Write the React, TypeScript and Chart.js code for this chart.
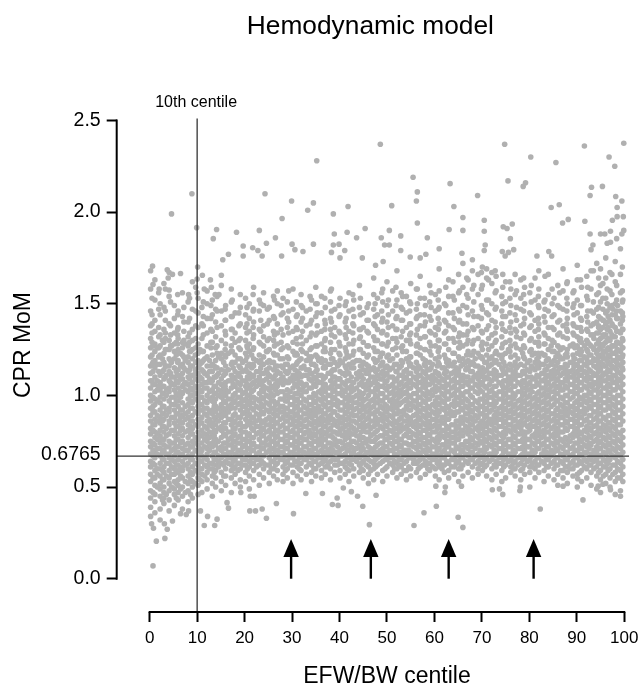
import React, { useEffect, useRef } from "react";
import { Chart, registerables } from "chart.js";

Chart.register(...registerables);

const chartTitle = "Hemodynamic model";
const xAxisTitle = "EFW/BW centile";
const yAxisTitle = "CPR MoM";
const centileLabel = "10th centile";
const xTicks = [0, 10, 20, 30, 40, 50, 60, 70, 80, 90, 100];
const yTicks = [0, 0.5, 1, 1.5, 2, 2.5];
const centileLine = 10;
const thresholdLabel = 0.6765;
const thresholdDrawn = 0.669; // where the line sits in the picture, just under the label's value
const arrowCentiles = [29.8, 46.6, 63.0, 80.9];

// Outlying dots: [centile, MoM]
const outliers: number[][] = [
  [35.2,2.28],[8.9,2.10],[24.3,2.10],[29.9,2.06],[34.5,2.05],[33.3,2.01],[41.8,2.03],[4.6,1.99],[38.7,1.99],[27.9,1.965],
  [9.9,1.915],[14.1,1.905],[13.4,1.855],[18.3,1.89],[23.1,1.90],[45.4,1.91],[38.9,1.88],[41.6,1.89],[26.5,1.86],[43.6,1.86],
  [24.6,1.83],[19.7,1.815],[21.7,1.805],[22.8,1.79],[30,1.825],[34.5,1.825],[38.7,1.82],[39.9,1.825],[30.6,1.795],[32.3,1.785],
  [41.1,1.79],[38.3,1.78],[16.6,1.77],[19.7,1.76],[23.7,1.76],[27.8,1.76],[15.4,1.74],[40.1,1.75],[44.8,1.75],
  [0.6,1.705],[3.7,1.685],[6.5,1.665],[4.8,1.66],[3.9,1.64],[0.7,1.605],[2,1.58],[4.1,1.575],[10.1,1.70],[10,1.635],[11.1,1.655],
  [12.8,1.63],[15.1,1.655],[13,1.59],[11.5,1.58],[10,1.56],[8.2,1.55],[13.8,1.55],[14.6,1.55],
  [48.6,2.37],[74.8,2.37],[91.6,2.36],[99.9,2.375],[80.3,2.30],[96.8,2.30],[85.6,2.27],[98,2.25],[55.5,2.19],[63.3,2.155],
  [75.5,2.17],[79.2,2.16],[78.7,2.14],[95.4,2.14],[93.1,2.135],[56.4,2.11],[56.2,2.06],[69.1,2.09],[92.8,2.09],[98.2,2.085],
  [99.5,2.06],[51,2.035],[64.1,2.03],[84.6,2.025],[86.3,2.04],[98.5,2.025],[66,1.97],[70.5,1.955],[56.4,1.94],[88.2,1.96],
  [87,1.94],[91.7,1.95],[97.5,1.955],[98.5,1.975],[99.8,1.975],[76.4,1.935],[74.5,1.92],[75.3,1.91],[66,1.90],[70.5,1.895],
  [63.1,1.905],[50.5,1.90],[52.9,1.87],[48.8,1.86],[58.5,1.86],[76,1.855],[92.8,1.88],[95,1.88],[95.9,1.88],[97.1,1.895],
  [99.9,1.90],[99.5,1.88],[98.4,1.855],[97.1,1.835],[96.4,1.83],[93.4,1.82],[93,1.795],[70.7,1.82],[70.5,1.79],[76.7,1.795],
  [75.6,1.78],[74.3,1.785],[74.9,1.76],[84.1,1.785],[84.7,1.76],[81.6,1.76],[61,1.80],[52.9,1.79],[49.5,1.82],[50.5,1.82],
  [54.9,1.755],[57,1.75],[58.2,1.77],[65.8,1.775],[49.2,1.73],[47.6,1.71],
  [0.7,0.07],[1.4,0.205],[3.2,0.22],[11.5,0.29],[13.7,0.29],[24.6,0.33],[30.3,0.355],[3.7,0.27],[0.8,0.275],[0.4,0.30],
  [3.1,0.30],[4.8,0.315],[14.2,0.325],[12.2,0.34],[6.5,0.355],[7.7,0.35],[8.2,0.37],[10.7,0.37],[21.1,0.37],[22.3,0.37],
  [23.7,0.38],[26.7,0.41],[16.6,0.385],[16.3,0.415],[21.2,0.45],[22,0.45],[19.2,0.47],[32.9,0.465],[36.4,0.465],[38.5,0.405],
  [39.7,0.40],[39.5,0.44],[46.3,0.295],[44.9,0.395],[55.7,0.29],[57.8,0.36],[60.4,0.395],[65,0.335],[66,0.28],[82.3,0.38],
  [91.3,0.43],[99.2,0.45],[90.2,0.545],[97.1,0.485],[95.5,0.515],[94.5,0.505],[74.4,0.46],[72.2,0.485],[73.7,0.49],[62.2,0.47],
  [62.3,0.50],[65.7,0.505],[60.3,0.505],[47.7,0.455],[43.8,0.45],[42.5,0.475],[40.8,0.495],[78,0.48],[87.1,0.505],[78.1,0.50],
];

// Centile of each column of the dense band (estimated).
const cloudX = [
  0.2,1.1,2.2,3.0,4.1,5.2,6.0,6.9,8.1,9.0,10.2,11.0,12.1,13.2,13.9,15.1,16.0,17.2,18.0,19.1,
  20.2,21.0,21.9,23.1,24.0,25.2,26.1,26.9,28.1,29.0,30.2,31.1,31.9,33.0,34.1,35.0,36.2,37.0,38.1,39.0,
  40.1,41.2,42.0,43.0,44.2,45.0,46.1,47.2,48.0,49.1,50.0,51.2,52.1,53.0,54.1,55.0,56.2,57.0,58.1,59.0,
  60.2,61.0,62.1,63.0,64.2,65.1,66.0,67.1,68.0,69.2,70.1,71.0,72.1,73.0,74.2,75.0,76.1,77.0,78.2,79.0,
  80.1,81.2,82.0,83.1,84.0,85.2,86.0,87.1,88.0,89.2,90.1,91.0,92.1,93.0,94.2,95.0,96.1,97.0,98.1,99.2,
];

// Estimated MoM values of each column, in hundredths. The band is too dense to read dot by dot.
const cloudY: number[][] = [
  [34,39,44,48,53,57,61,64,68,72,75,79,82,86,89,93,97,100,104,108,112,116,121,126,131,138,146,158,168],
  [36,42,46,51,55,59,62,66,69,73,77,80,84,87,91,95,98,102,106,110,115,119,124,128,135,141,152,163],
  [32,38,45,49,52,56,60,63,67,71,74,78,81,85,88,92,96,99,103,107,111,117,122,127,133,144,150],
  [41,44,47,50,54,58,61,65,70,73,76,80,83,87,90,94,98,101,105,109,114,118,123,129,136,148,161],
  [37,43,48,52,55,59,63,66,68,72,75,79,84,86,91,93,97,102,104,108,113,116,120,125,130,139,154,167],
  [40,46,49,53,57,60,64,67,71,74,78,81,85,88,92,95,99,103,106,110,115,120,124,128,134,142,149],
  [43,47,51,54,58,62,65,69,72,76,79,83,86,90,94,97,100,104,107,111,114,119,125,131,137,146],
  [38,45,50,55,59,61,64,68,71,75,78,82,85,89,92,96,101,105,109,112,117,122,126,129,143,156],
  [42,48,52,56,60,63,67,70,74,77,81,84,88,91,95,98,102,106,110,113,118,121,127,132,140,151],
  [44,50,53,57,61,65,68,72,75,79,82,86,89,93,96,100,103,107,111,116,120,125,130,136,147,162],
  [46,51,55,58,62,66,69,73,76,80,83,87,90,94,97,101,105,108,112,115,119,123,128,137,145,153],
  [47,53,57,60,64,67,70,74,78,81,85,88,92,95,99,102,106,109,114,118,124,131,139,148],
  [49,54,58,61,65,68,71,75,78,82,86,89,93,96,100,104,107,111,116,121,127,134,142,150,157],
  [45,52,56,60,63,67,72,74,79,83,85,90,92,97,99,103,108,113,117,122,129,135,144,152],
  [50,55,59,62,65,69,73,76,80,84,87,91,94,98,101,105,110,115,119,126,132,140,147],
  [48,53,58,63,66,70,72,77,81,83,88,91,95,99,102,106,109,114,120,123,130,138,146,160],
  [51,56,60,64,67,71,74,78,82,85,89,92,96,100,103,107,112,116,121,128,133,141,149],
  [47,55,59,62,66,69,73,77,80,84,87,93,95,98,104,108,111,117,124,127,136,143,151,158],
  [52,57,61,65,68,72,75,79,82,86,90,93,97,101,105,109,113,118,122,129,134,145],
  [50,54,60,63,67,70,74,78,81,85,88,92,96,99,103,106,110,115,120,125,131,139,148,155],
  [53,58,62,65,69,73,76,80,83,87,91,94,98,102,105,108,114,119,123,130,137,144,153],
  [49,56,61,64,68,71,75,79,84,86,90,95,97,100,104,109,112,117,124,128,135,142,150],
  [54,59,63,66,70,74,77,81,85,88,92,96,99,103,107,111,116,120,126,133,140,147,159],
  [51,57,62,65,69,72,76,80,83,87,89,93,97,101,106,110,113,118,122,129,136,146,152],
  [55,60,63,67,71,74,78,82,86,90,94,98,102,105,108,112,117,121,127,132,138,149,156],
  [52,58,62,66,70,73,77,81,84,88,91,95,99,103,107,111,115,119,125,131,141,148],
  [56,60,64,68,71,75,79,83,87,90,93,97,100,104,109,114,118,123,130,135,143,154],
  [54,59,63,67,70,74,78,81,85,89,92,96,101,105,108,113,116,122,128,134,139,150,157],
  [53,57,61,65,69,72,76,80,84,88,91,94,98,102,106,110,115,120,126,133,145,153],
  [55,60,64,67,71,75,78,82,86,89,93,97,100,103,107,112,117,121,127,137,142,151],
  [52,58,62,66,69,73,77,81,85,87,91,95,99,104,108,111,116,124,129,135,147,158],
  [56,61,64,68,72,75,79,83,86,90,94,98,101,105,109,113,118,122,128,136,144],
  [54,59,63,67,70,74,77,81,84,88,92,96,100,103,107,110,115,120,125,132,140,149,155],
  [57,61,65,68,72,76,80,83,87,90,93,97,102,106,111,114,119,123,130,138,146],
  [53,58,62,66,69,73,77,79,84,88,91,95,99,104,108,112,117,121,126,134,141,152],
  [56,60,64,67,71,75,78,82,85,89,92,96,100,105,109,113,116,122,127,133,143,150,159],
  [55,59,63,66,70,74,78,81,85,88,92,97,101,103,107,111,118,120,128,135,145,154],
  [57,61,65,69,72,76,79,83,86,90,94,98,102,106,110,115,119,124,131,139,148],
  [54,60,64,68,71,74,78,82,87,89,93,96,100,104,108,112,117,123,129,136,142,151,157],
  [58,62,65,69,73,76,80,84,86,91,95,99,103,107,110,114,118,125,132,137,147],
  [55,59,63,67,70,75,79,81,85,88,92,96,101,105,109,113,119,122,127,134,144,153],
  [57,61,64,68,72,76,80,83,87,90,94,98,102,106,111,116,120,126,133,140,149],
  [53,59,63,66,70,73,77,81,84,88,93,97,100,104,108,112,117,121,128,135,146,156],
  [56,60,65,69,71,75,79,82,86,89,92,96,99,103,107,115,118,124,130,138,143,152],
  [58,62,66,68,72,76,78,83,87,91,95,98,102,106,110,113,119,125,131,136,148,160],
  [55,59,64,67,71,74,77,82,85,89,93,97,101,105,109,114,118,123,129,137,145],
  [52,57,61,65,69,72,76,80,84,88,91,95,100,104,108,112,116,122,127,134,141,150],
  [54,60,63,67,70,75,79,83,86,90,94,98,102,107,110,115,120,126,132,139,147,155,164],
  [57,62,66,69,73,77,81,85,87,92,96,99,103,106,111,114,119,124,130,136,144,153],
  [53,59,64,68,71,74,78,82,86,89,93,97,101,105,109,113,118,123,128,135,142,151,158],
  [56,61,65,68,72,76,79,83,87,91,94,99,103,108,112,116,121,127,133,140,149,162],
  [58,62,66,70,73,77,80,84,88,92,95,98,102,106,110,115,120,125,131,138,146,157],
  [55,60,63,67,71,75,78,82,85,90,93,97,101,104,109,113,117,122,129,136,143,152,168],
  [57,61,65,69,72,76,81,84,88,91,96,100,103,107,111,116,119,126,132,141,148,156],
  [54,59,64,68,70,74,79,83,86,89,94,98,102,106,110,114,120,124,130,137,145,154],
  [56,60,66,69,73,77,80,85,87,92,95,99,104,108,112,117,121,128,134,139,150,161],
  [58,63,67,71,75,78,82,86,90,93,97,101,105,109,113,118,123,127,133,142,147,158],
  [55,61,65,68,72,76,79,83,87,91,95,99,103,107,111,115,122,126,131,138,144,153,165],
  [57,62,64,69,73,77,81,84,88,92,96,100,104,108,112,116,119,125,132,140,149],
  [59,63,66,70,74,78,82,85,89,93,98,101,106,110,114,118,124,129,135,143,151,160],
  [56,60,65,68,72,75,80,84,87,90,94,97,102,105,109,113,120,127,133,137,146,155],
  [54,61,64,67,71,76,79,83,86,91,95,99,103,107,111,117,121,126,130,139,148,157,169],
  [58,62,66,70,73,77,81,85,88,92,96,100,104,108,112,115,122,128,134,141,150],
  [55,59,63,68,72,75,78,82,87,90,93,98,102,106,110,116,119,125,131,138,145,154,163],
  [57,61,65,69,74,77,80,84,89,94,97,101,105,109,113,118,123,129,136,142,152],
  [53,60,64,67,71,76,79,83,86,91,95,99,103,107,112,114,121,126,132,140,147,156,166],
  [56,62,66,70,73,78,81,85,88,92,96,100,105,108,111,117,120,127,133,139,149,159,172],
  [58,63,67,71,75,79,82,86,90,93,97,102,106,110,115,119,124,130,135,144,153,163],
  [55,61,65,69,72,76,80,84,87,91,95,99,104,108,113,118,122,128,137,146,158,168,174],
  [57,60,64,68,73,77,81,83,88,92,96,101,105,109,112,116,123,131,138,143,155,166],
  [59,63,67,70,74,78,82,86,90,94,98,102,107,111,115,120,125,129,134,147,160,170],
  [56,62,66,71,75,79,83,85,89,93,97,100,104,110,114,118,122,128,136,145,152,164,169],
  [54,60,65,68,72,76,80,84,87,92,95,99,103,108,112,117,121,127,133,141,150,161,167],
  [57,61,64,69,73,77,81,85,88,91,96,100,105,109,113,119,124,130,137,148,157,165],
  [53,59,63,67,71,75,78,83,87,90,94,98,102,106,111,115,120,126,132,139,146,154],
  [55,62,66,70,74,79,82,86,89,93,97,101,104,108,112,116,123,129,135,143,151,162],
  [58,61,65,68,72,76,80,84,88,92,96,99,103,107,110,114,121,127,134,140,149,158],
  [56,60,64,69,73,77,81,83,87,91,95,100,105,109,113,118,122,128,136,144,155,166],
  [54,59,63,67,71,75,79,82,86,90,94,98,102,106,111,117,125,131,138,147,153,163],
  [57,62,66,70,74,78,80,85,89,93,97,101,104,108,112,116,120,126,133,142,150,159],
  [50,58,61,65,68,72,76,81,84,88,92,96,100,103,107,113,119,124,130,137,145,156],
  [55,60,64,69,73,77,79,83,87,91,95,99,105,109,114,118,123,129,135,141,152,164],
  [58,62,66,71,75,78,82,86,90,94,98,102,106,110,115,121,127,132,139,148,158,168],
  [53,59,63,67,70,74,78,81,85,89,93,97,101,104,108,112,117,122,128,134,143,151],
  [56,61,65,68,72,76,80,84,88,92,96,100,103,107,111,116,120,125,131,137,146,155,166],
  [54,60,64,69,73,77,79,83,87,90,95,99,102,106,110,114,119,124,129,136,144,153],
  [51,57,62,66,70,74,78,82,86,89,93,97,101,105,109,113,118,123,127,133,140,149,160],
  [55,59,63,67,71,75,80,84,88,91,94,98,103,107,112,115,120,126,132,138,147,157,169],
  [52,58,61,65,69,73,76,81,85,89,92,96,100,104,108,111,116,121,125,131,135,142,150,162],
  [56,60,64,68,72,77,79,83,87,90,94,99,102,106,110,114,118,122,128,134,139,148,156],
  [50,57,62,66,70,74,78,82,86,89,93,97,101,105,109,113,117,123,127,132,137,145,152,163,171],
  [53,59,63,67,71,75,79,84,88,91,95,98,103,107,111,115,119,124,129,135,141,149,159],
  [55,60,64,69,72,76,80,83,87,92,96,100,104,108,112,116,120,125,130,136,143,154,165],
  [51,58,62,65,68,73,77,81,85,89,93,97,101,105,109,113,118,122,127,133,138,146,158,168],
  [49,56,61,65,69,72,76,80,84,88,91,95,99,103,107,111,115,119,123,128,134,140,147,155,172],
  [47,54,59,63,67,71,75,79,82,86,90,94,98,102,106,110,114,118,122,126,131,136,142,151,160,169],
  [52,57,61,64,68,72,76,80,83,87,92,96,100,104,108,112,116,120,124,129,133,139,145,153,164,175],
  [50,55,60,65,69,73,77,81,85,89,93,97,101,105,109,113,117,121,125,130,135,141,148,157,167],
  [46,53,58,62,66,70,74,78,82,86,90,94,98,103,107,111,115,119,123,127,132,137,144,150,162,173],
  [48,55,59,63,67,71,75,79,84,88,92,96,100,104,108,112,116,120,124,128,134,139,146,156,166,180],
];

// A second set of estimated columns, lying between the first ones, that closes up the band.
const fillX = [
  0.7,1.6,2.7,3.5,4.6,5.6,6.5,7.5,8.6,9.6,10.6,11.6,12.6,13.6,14.5,15.6,16.6,17.6,18.6,19.6,
  20.6,21.5,22.5,23.6,24.6,25.6,26.5,27.5,28.6,29.6,30.6,31.5,32.5,33.6,34.6,35.6,36.6,37.6,38.6,39.6,
  40.6,41.6,42.5,43.6,44.6,45.6,46.6,47.6,48.6,49.6,50.6,51.6,52.6,53.6,54.6,55.6,56.6,57.6,58.6,59.6,
  60.6,61.6,62.6,63.6,64.6,65.6,66.6,67.6,68.6,69.6,70.6,71.6,72.6,73.6,74.6,75.6,76.6,77.6,78.6,79.6,
  80.6,81.6,82.6,83.6,84.6,85.6,86.6,87.6,88.6,89.6,90.6,91.6,92.6,93.6,94.6,95.6,96.6,97.6,98.6,99.7,
];

const fillY: number[][] = [
  [47,55,63,67,70,74,81,84,91,94,99,106,113,118,127],[50,57,60,68,71,76,79,86,89,97,103,108,117,126],
  [43,54,59,65,69,76,83,86,90,94,101,105,113,120,130],[46,56,63,68,72,78,82,89,92,100,103,111,116,125],
  [50,57,61,65,70,74,81,88,95,99,106,110,118,127],[44,52,59,62,69,72,76,83,90,97,101,108,113,122,129],
  [49,56,60,67,74,81,85,88,92,99,102,109,116,123],[47,53,62,66,70,73,80,87,90,94,103,107,114,119,128],
  [46,54,58,65,72,79,83,86,93,97,100,104,111,116,124],[52,59,63,70,74,77,84,91,98,101,105,109,114,122],
  [54,60,64,68,71,78,85,92,95,99,103,110,117,125],[56,62,66,72,76,79,83,90,93,97,104,107,112,120],
  [60,63,70,73,77,80,84,87,91,98,102,109,113,119],[58,65,69,76,78,81,88,94,96,101,105,110,116],
  [61,64,67,71,75,82,86,89,93,100,103,107,112,121],[56,62,68,74,79,85,90,93,97,101,104,111,118],
  [63,66,69,73,76,80,87,91,94,98,102,108,114,123],[60,64,71,75,78,82,85,89,96,100,106,110,115],
  [59,63,67,70,74,77,84,88,95,99,103,107,111,120],[62,65,69,72,76,80,83,90,94,97,101,108,113,118],
  [60,67,71,75,78,85,89,92,96,100,104,110,116,126],[63,66,70,73,77,82,88,93,99,102,106,111,115,122],
  [61,65,68,72,79,83,86,90,94,98,105,108,113,119],[64,67,71,74,78,81,85,91,95,99,103,107,112,117],
  [62,69,73,76,80,84,87,92,96,100,104,109,114,124],[60,64,68,71,75,79,83,86,93,97,101,105,110,118],
  [62,66,70,73,77,81,85,89,92,95,103,106,111,116],[65,69,72,76,80,83,87,91,94,98,102,107,112,120],
  [59,63,67,71,74,78,82,86,90,93,97,100,108,113,117],[62,66,69,73,77,80,84,88,91,95,99,102,109,115],
  [64,68,71,75,79,83,89,93,97,101,106,110,114,122],[60,63,66,70,74,77,81,85,88,92,96,103,107,112,119],
  [65,69,72,76,79,83,86,90,94,98,102,105,111,116],[63,67,70,74,78,81,85,89,92,95,99,104,109,114,121],
  [60,64,68,71,75,79,82,86,90,93,97,101,106,110,117],[62,66,69,73,76,80,84,87,91,94,98,102,107,111,119],
  [64,68,72,76,80,83,87,90,95,99,103,105,109,115,124],[61,63,67,70,74,78,81,85,88,92,96,100,104,112,117],
  [66,70,73,77,80,84,87,91,95,98,102,106,110,114,120],[62,65,69,72,75,79,83,86,89,94,97,101,105,109,116],
  [63,67,71,74,78,82,85,88,92,96,100,103,107,112,118],[60,66,70,73,77,79,84,87,91,95,99,104,108,113,122],
  [62,65,68,72,75,79,83,86,90,94,98,102,105,110,115],[64,67,71,74,78,81,85,89,93,96,100,104,109,112,119],
  [60,63,70,73,77,80,84,88,92,95,99,101,107,111,116],[62,66,69,74,76,80,83,87,91,94,98,103,106,112,117],
  [59,64,68,71,75,78,82,86,90,93,97,102,106,110,114],[61,65,68,72,76,80,84,88,91,96,100,104,108,113,118],
  [63,67,70,74,78,83,87,90,94,97,101,105,109,116,121],[60,65,69,72,76,80,84,88,91,95,99,104,107,111,115],
  [63,66,70,74,77,81,85,89,93,97,101,105,110,114,119],[60,64,68,71,75,79,82,86,90,94,96,100,104,108,117],
  [62,65,69,73,76,80,83,87,91,95,99,102,106,111,115],[59,63,67,70,74,78,82,86,90,92,97,101,105,109,113],
  [61,66,70,73,77,81,84,88,92,96,100,104,108,112,118],[63,65,68,72,75,79,83,85,89,94,97,101,106,110,115],
  [60,64,69,73,76,80,84,88,92,95,99,103,107,111,116],[62,66,70,74,77,81,85,89,93,97,101,105,109,113,120],
  [60,63,67,71,75,79,83,86,90,94,98,102,106,110,114],[61,65,68,72,76,80,83,87,91,95,100,103,107,111,117],
  [63,67,70,74,77,82,86,89,92,96,99,104,108,112,116],[60,62,66,69,73,78,81,85,88,93,97,101,105,109,115],
  [64,68,72,75,79,83,87,90,94,98,102,106,110,113,118],[61,65,70,74,77,80,84,89,91,95,100,104,108,112,117],
  [63,67,71,72,76,79,82,86,91,96,99,103,107,111,115],[60,62,66,69,73,78,81,85,88,93,97,101,105,109,116],
  [64,68,72,75,80,83,87,90,94,98,102,107,110,114,118],[65,69,73,77,81,84,88,92,95,100,104,108,113,117,122],
  [63,67,71,74,78,82,86,89,93,97,102,106,111,116,120],[62,66,70,75,79,83,85,90,94,98,103,107,110,114,121],
  [61,65,69,72,76,80,84,88,92,96,100,105,109,113,118],[64,68,73,77,81,85,87,91,95,99,102,106,112,116,120],
  [62,67,70,74,78,82,86,89,94,97,101,105,110,114,119],[63,66,71,75,79,83,87,90,93,98,102,107,111,117,122],
  [61,65,69,73,77,80,85,89,92,96,100,104,108,113,118],[64,68,72,76,81,84,88,91,95,99,103,106,110,114,125],
  [60,63,67,70,74,78,82,86,90,94,98,101,105,109,112,116],[62,66,71,75,79,83,85,89,93,97,102,107,111,116,120],
  [60,65,68,72,76,80,84,88,92,96,100,104,108,113,123],[64,68,72,76,80,83,87,91,95,99,103,106,110,114,118],
  [61,63,67,70,74,78,83,86,90,94,98,102,105,109,115,122],[62,66,71,75,79,81,85,89,93,97,101,107,111,116,120],
  [64,68,73,77,80,84,88,92,96,100,104,108,112,117,123],[61,65,69,72,76,80,83,87,91,95,99,103,106,110,114,119],
  [63,67,70,74,78,82,86,90,94,98,102,105,109,113,118,127],[62,66,71,75,79,81,85,89,92,97,101,104,108,112,116,121],
  [59,64,68,72,76,80,84,88,91,95,99,103,107,111,115,120,125],[61,65,69,73,77,82,86,90,93,96,100,105,109,114,117,122],
  [60,63,67,71,75,78,83,87,91,94,98,102,106,110,113,118,127],[62,66,70,74,79,81,85,89,92,96,101,104,108,112,116,120,126],
  [58,64,68,72,76,80,84,88,91,95,99,103,107,111,115,119,125,130],[61,65,69,73,77,81,86,90,93,97,100,105,109,113,117,121,127],
  [62,66,71,74,78,82,85,89,94,98,102,106,110,114,118,122,128],[60,64,67,70,75,79,83,87,91,95,99,103,107,111,116,120,125,131],
  [58,63,67,71,74,78,82,86,90,93,97,101,105,109,113,117,121,125,130,137],[56,61,65,69,73,77,81,84,88,92,96,100,104,108,112,116,120,124,128,133,141],
  [59,63,66,70,74,78,82,85,89,94,98,102,106,110,114,118,122,126,131,137,143],[57,62,67,71,75,79,83,87,91,95,99,103,107,111,115,119,123,127,132,138,147],
  [55,60,64,68,72,76,80,84,88,92,96,100,105,109,113,117,121,125,129,135,142,149],[53,57,61,65,69,73,77,81,86,90,94,98,102,106,110,114,118,122,126,130,136,143,152],
];

// A third set of estimated columns for the looser upper part of the band and its fringes.
const upperX = [
  0.5,1.9,3.3,4.4,5.9,7.2,8.4,9.7,11.3,12.9,14.2,15.9,17.4,18.8,20.5,21.8,23.4,24.8,26.3,27.7,
  29.3,30.9,32.2,33.8,35.3,36.9,38.3,39.9,41.4,42.8,44.4,45.8,47.5,48.9,50.3,51.9,53.3,54.8,56.4,57.9,
  59.3,60.8,62.4,63.9,65.3,66.8,68.3,69.9,71.4,72.8,74.4,75.9,77.3,78.8,80.4,81.9,83.3,84.8,86.4,87.9,
  89.4,90.8,92.3,93.5,94.6,95.5,96.4,97.4,98.4,99.6,
];

const upperY: number[][] = [
  [108,117,122,129,134,139,144,153],[105,113,121,126,132,137,147,156],[110,116,125,131,134,141,146,158],[107,112,119,127,133,138,151],
  [111,118,123,128,133,136,144,155],[106,115,121,130,135,140,148],[109,114,124,129,134,142,153],[104,112,118,126,131,138,146,159],
  [113,119,124,133,138,143,151],[107,116,126,129,136,142,149],[111,115,123,127,137,146,154],[105,113,122,125,135,141,147],
  [109,118,124,131,136,143,152],[112,116,126,130,138,145],[106,113,121,127,134,139,148],[110,117,125,131,137,146,155],
  [108,115,119,128,135,141,150],[112,118,124,130,139,147],[105,114,122,127,133,142,152],[109,116,125,129,136,144,149],
  [107,113,120,126,134,140,146,157],[111,117,123,131,137,143,151],[106,115,124,128,135,142,148],[112,119,125,132,139,147,154],
  [108,114,121,127,134,138,145,150],[110,116,126,130,136,141,153],[105,113,120,125,133,140,146,158],[109,117,123,129,135,143,149],
  [112,115,124,131,137,142,151],[107,118,122,128,134,139,147,155],[111,116,125,132,136,144,153],[106,114,121,127,135,141,148],
  [109,119,124,130,138,143,150],[112,117,123,128,134,140,146,156],[105,115,122,129,137,144,152],[108,113,126,131,136,142,149,159],
  [111,118,124,127,135,141,147,154],[107,116,121,130,133,139,146,151],[110,114,123,128,136,143,150,158],[106,117,125,132,138,144,153],
  [109,115,122,127,134,141,148,156],[112,118,124,130,136,142,147,152],[105,113,120,128,135,140,149,159],[108,116,123,131,137,145,154,162],
  [111,119,126,129,134,141,146,157],[107,115,122,128,133,139,148,155,164],[110,117,124,130,136,143,151,160],[106,113,121,127,135,142,149,158,167],
  [109,116,125,131,138,144,152,163],[112,118,123,129,134,140,147,156,168],[105,114,122,128,136,143,150,159,166],[108,117,124,130,137,145,153,162],
  [111,115,126,132,135,141,148,157],[107,113,121,127,134,139,146,155,164],[110,116,125,131,138,144,151,160],[106,118,123,129,136,142,149,154],
  [109,114,122,128,133,140,147,152,165],[112,117,124,130,137,143,150,158],[105,115,121,126,134,141,148,156],[108,113,123,131,136,139,146,153,161],
  [111,116,120,127,133,138,144,150,157],[107,114,122,125,131,137,142,149,163],[110,118,124,129,135,140,146,152,159],[106,112,119,126,133,139,145,151,168],
  [108,115,121,128,134,138,143,148,156,164],[111,117,122,127,132,137,141,147,153,161],[105,113,119,125,130,136,140,146,150,158],[109,116,123,127,133,139,144,149,155,166],
  [107,114,118,124,129,135,142,146,152,160],[110,115,121,126,131,136,141,145,151,157,170],
];

const toPoints = (xs: number[], rows: number[][]) =>
  xs.flatMap((x, i) => rows[i].map((v) => ({ x, y: v / 100 })));
const scatterPoints = [
  ...toPoints(cloudX, cloudY),
  ...toPoints(fillX, fillY),
  ...toPoints(upperX, upperY),
  ...outliers.map(([x, y]) => ({ x, y })),
];

const X_MIN = -6.95;
const X_MAX = 101;
const Y_MIN = -0.1816;
const Y_MAX = 2.51;
const FONT = "'Liberation Sans', Arial, sans-serif";

const overlayPlugin = {
  id: "overlay",
  beforeDraw(chart: any) {
    // Centre the titles over the drawn axis lengths rather than over the full plot box.
    const { x, y } = chart.scales;
    x.left = 2 * x.getPixelForValue(50) - x.right;
    y.bottom = 2 * 345 - y.top;
    chart.titleBlock.right -= 5;
  },
  afterDatasetsDraw(chart: any) {
    const { ctx } = chart;
    const { x, y } = chart.scales;
    ctx.save();
    ctx.strokeStyle = "#000";
    ctx.lineWidth = 2;
    ctx.beginPath();
    ctx.moveTo(x.getPixelForValue(X_MIN), y.getPixelForValue(2.5) - 1);
    ctx.lineTo(x.getPixelForValue(X_MIN), y.getPixelForValue(0) + 1);
    ctx.moveTo(x.getPixelForValue(0) - 1, y.getPixelForValue(Y_MIN));
    ctx.lineTo(x.getPixelForValue(100) + 1, y.getPixelForValue(Y_MIN));
    ctx.stroke();

    ctx.fillStyle = "#000";
    arrowCentiles.forEach((c) => {
      const px = x.getPixelForValue(c);
      const tip = y.getPixelForValue(0.216);
      const base = y.getPixelForValue(0);
      ctx.lineWidth = 2.4;
      ctx.beginPath();
      ctx.moveTo(px, base);
      ctx.lineTo(px, tip + 14);
      ctx.stroke();
      ctx.beginPath();
      ctx.moveTo(px, tip);
      ctx.lineTo(px + 7.7, tip + 18);
      ctx.lineTo(px - 7.7, tip + 18);
      ctx.closePath();
      ctx.fill();
    });

    ctx.font = `16px ${FONT}`;
    ctx.textAlign = "center";
    ctx.textBaseline = "middle";
    ctx.fillText(centileLabel, x.getPixelForValue(centileLine) - 1, 103);
    ctx.restore();
  },
};

export default function App() {
  const ref = useRef<HTMLCanvasElement>(null);
  useEffect(() => {
    const chart = new Chart(ref.current as HTMLCanvasElement, {
      type: "scatter",
      data: {
        datasets: [
          {
            type: "line",
            data: [{ x: centileLine, y: Y_MIN }, { x: centileLine, y: Y_MAX }],
            borderColor: "#333",
            borderWidth: 1.3,
            pointRadius: 0,
            clip: false,
            order: 1,
          },
          {
            type: "line",
            data: [{ x: X_MIN, y: thresholdDrawn }, { x: X_MAX, y: thresholdDrawn }],
            borderColor: "#333",
            borderWidth: 1.3,
            pointRadius: 0,
            clip: false,
            order: 1,
          },
          {
            data: scatterPoints,
            backgroundColor: "#b0b0b0",
            borderWidth: 0,
            pointRadius: 2.8,
            clip: false,
            order: 2,
          },
        ] as any,
      },
      options: {
        animation: false,
        responsive: false,
        layout: { padding: { left: 0, right: 12, top: 0, bottom: 0 } },
        plugins: {
          legend: { display: false },
          tooltip: { enabled: false },
          title: {
            display: true,
            text: chartTitle,
            fullSize: false,
            color: "#000",
            font: { family: FONT, size: 26.3, weight: "normal" },
            padding: { top: 11, bottom: 76 },
          },
        },
        scales: {
          x: {
            type: "linear",
            min: X_MIN,
            max: X_MAX,
            afterFit: (s: any) => { s.height = 74; s.paddingRight = 0; s.paddingLeft = 0; },
            afterBuildTicks: (s: any) => { s.ticks = xTicks.map((value) => ({ value })); },
            border: { display: false },
            grid: { drawOnChartArea: false, drawTicks: true, tickLength: 10, tickWidth: 2, tickColor: "#000" },
            ticks: { autoSkip: false, maxRotation: 0, color: "#000", padding: 6, font: { family: FONT, size: 17 } },
            title: {
              display: true,
              text: xAxisTitle,
              color: "#000",
              font: { family: FONT, size: 23, lineHeight: 0.8 },
              padding: { top: 0, bottom: 0 },
            },
          },
          y: {
            type: "linear",
            min: Y_MIN,
            max: Y_MAX,
            afterFit: (s: any) => { s.width = 116.7; s.paddingTop = 0; s.paddingBottom = 0; },
            afterBuildTicks: (s: any) => {
              s.ticks = [...yTicks, thresholdLabel].map((value) => ({ value }));
            },
            border: { display: false },
            grid: {
              drawOnChartArea: false,
              drawTicks: true,
              tickLength: 10,
              tickWidth: 2,
              tickColor: (c: any) => (c.tick && c.tick.value === thresholdLabel ? "transparent" : "#000"),
            },
            ticks: {
              autoSkip: false,
              color: "#000",
              padding: 6,
              font: { family: FONT, size: 19.5 },
              callback: (v: any) => (v === thresholdLabel ? String(thresholdLabel) : Number(v).toFixed(1)),
            },
            title: {
              display: true,
              text: yAxisTitle,
              color: "#000",
              font: { family: FONT, size: 23 },
              padding: { top: 10, bottom: 0 },
            },
          },
        },
      } as any,
      plugins: [overlayPlugin],
    });
    return () => chart.destroy();
  }, []);
  return (
    <div style={{ position: "absolute", left: 0, top: 0, width: 641, height: 686, background: "#fff" }}>
      <canvas ref={ref} width={641} height={686} style={{ display: "block" }} />
    </div>
  );
}
